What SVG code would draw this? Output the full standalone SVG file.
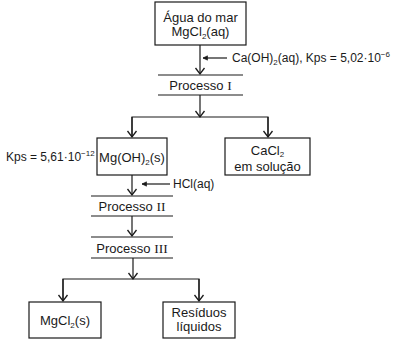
<svg xmlns="http://www.w3.org/2000/svg" width="397" height="344" viewBox="0 0 397 344">
<style>
text{font-family:"Liberation Sans",Arial,sans-serif;fill:#1a1a1a}
.b{font-size:13px;text-anchor:middle}
.a{font-size:12px}
.r{font-family:"Liberation Serif","Times New Roman",serif;font-size:13.5px}
.s{font-size:8px}
rect{fill:#fff;stroke:#1a1a1a;stroke-width:1.2}
.ln{stroke:#1a1a1a;stroke-width:1.2;fill:none}
</style>
<defs>
<marker id="v" markerUnits="userSpaceOnUse" markerWidth="12" markerHeight="12" refX="0" refY="0" viewBox="-8 -6 10 12" orient="auto" overflow="visible">
<path d="M-6,-4.5 L0,0 L-6,4.5" fill="none" stroke="#1a1a1a" stroke-width="1.3"/>
</marker>
<marker id="h" markerUnits="userSpaceOnUse" markerWidth="8" markerHeight="8" refX="0" refY="0" viewBox="-6 -4 8 8" orient="auto" overflow="visible">
<path d="M-4.5,-2.2 L0,0 L-4.5,2.2 Z" fill="#1a1a1a" stroke="#1a1a1a" stroke-width="0.6"/>
</marker>
</defs>
<g id="connectors">
<line class="ln" x1="200" y1="45" x2="200" y2="74" marker-end="url(#v)"/>
<line class="ln" x1="227" y1="58" x2="203" y2="58" marker-end="url(#h)"/>
<line class="ln" x1="200" y1="95" x2="200" y2="117" marker-end="url(#v)"/>
<polyline class="ln" points="132,137 132,117 268,117 268,137"/>
<line class="ln" x1="132" y1="117" x2="132" y2="137" marker-end="url(#v)"/>
<line class="ln" x1="268" y1="117" x2="268" y2="137" marker-end="url(#v)"/>
<line class="ln" x1="132" y1="175" x2="132" y2="195" marker-end="url(#v)"/>
<line class="ln" x1="170" y1="184" x2="142" y2="184" marker-end="url(#h)"/>
<line class="ln" x1="132" y1="216" x2="132" y2="236" marker-end="url(#v)"/>
<line class="ln" x1="133" y1="258" x2="133" y2="279" marker-end="url(#v)"/>
<polyline class="ln" points="63,301 63,279 199,279 199,301"/>
<line class="ln" x1="63" y1="279" x2="63" y2="301" marker-end="url(#v)"/>
<line class="ln" x1="199" y1="279" x2="199" y2="301" marker-end="url(#v)"/>
</g>
<g id="agua">
<rect x="155" y="2" width="91" height="43"/>
<text class="b" x="200.5" y="22">Água do mar</text>
<text class="b" x="200.5" y="36">MgCl<tspan class="s" dy="2.5">2</tspan><tspan dy="-2.5">(aq)</tspan></text>
</g>
<g id="caoh">
<text class="a" x="232" y="62">Ca(OH)<tspan class="s" dy="2.5">2</tspan><tspan dy="-2.5">(aq), Kps = 5,02·10</tspan><tspan class="s" dy="-5">−6</tspan></text>
</g>
<g id="proc1">
<line class="ln" x1="158" y1="75" x2="243" y2="75"/>
<line class="ln" x1="158" y1="95" x2="243" y2="95"/>
<text class="b" x="200.5" y="89.5">Processo <tspan class="r">I</tspan></text>
</g>
<g id="mgoh">
<rect x="97" y="138" width="70" height="37"/>
<text class="b" x="132" y="162">Mg(OH)<tspan class="s" dy="2.5">2</tspan><tspan dy="-2.5">(s)</tspan></text>
</g>
<g id="kps">
<text class="a" x="6" y="161">Kps = 5,61·10<tspan class="s" dy="-5">−12</tspan></text>
</g>
<g id="cacl">
<rect x="225" y="138" width="85" height="37"/>
<text class="b" x="267.5" y="154.5">CaCl<tspan class="s" dy="2">2</tspan></text>
<text class="b" x="267.5" y="170.5">em solução</text>
</g>
<g id="hcl">
<text class="a" x="173" y="188">HCl(aq)</text>
</g>
<g id="proc2">
<line class="ln" x1="91" y1="196" x2="173" y2="196"/>
<line class="ln" x1="91" y1="216" x2="173" y2="216"/>
<text class="b" x="132" y="210.5">Processo <tspan class="r">II</tspan></text>
</g>
<g id="proc3">
<line class="ln" x1="91" y1="237" x2="173" y2="237"/>
<line class="ln" x1="91" y1="258" x2="173" y2="258"/>
<text class="b" x="132" y="252.5">Processo <tspan class="r">III</tspan></text>
</g>
<g id="mgcl">
<rect x="29" y="302" width="72" height="36"/>
<text class="b" x="65" y="325">MgCl<tspan class="s" dy="2.5">2</tspan><tspan dy="-2.5">(s)</tspan></text>
</g>
<g id="residuos">
<rect x="163" y="302" width="72" height="36"/>
<text class="b" x="199" y="317">Resíduos</text>
<text class="b" x="199" y="331">líquidos</text>
</g>
</svg>
